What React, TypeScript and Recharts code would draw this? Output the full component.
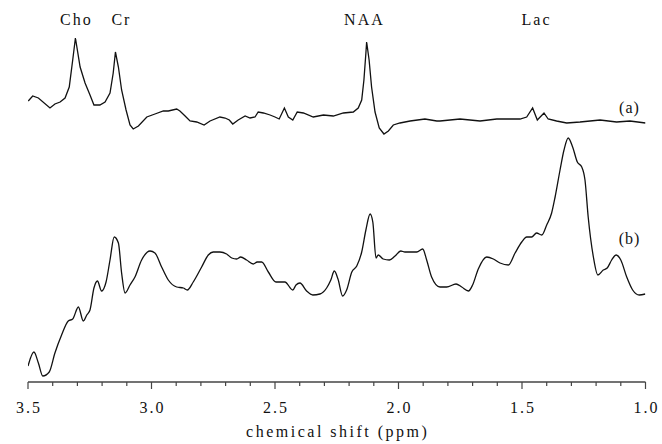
import React from "react";
import { LineChart, Line, XAxis, YAxis, ReferenceDot } from "recharts";

// spectrum (a): normal tissue, chemical shift (ppm) and intensity (arb. units, offset)
const ppmA = [
  3.499, 3.481, 3.458, 3.411, 3.391, 3.37, 3.35, 3.333, 3.319, 3.308, 3.289, 3.269,
  3.249, 3.233, 3.209, 3.188, 3.168, 3.155, 3.146, 3.134, 3.121, 3.103, 3.087, 3.074,
  3.053, 3.019, 2.986, 2.952, 2.932, 2.898, 2.885, 2.864, 2.844, 2.817, 2.787, 2.763,
  2.723, 2.702, 2.685, 2.671, 2.649, 2.621, 2.601, 2.581, 2.568, 2.547, 2.52, 2.5,
  2.483, 2.462, 2.446, 2.428, 2.41, 2.385, 2.345, 2.304, 2.264, 2.223, 2.183, 2.163,
  2.149, 2.14, 2.132, 2.129, 2.119, 2.109, 2.095, 2.078, 2.059, 2.041, 2.021, 1.994,
  1.953, 1.893, 1.845, 1.832, 1.751, 1.67, 1.602, 1.508, 1.481, 1.457, 1.438, 1.411,
  1.394, 1.36, 1.319, 1.265, 1.184, 1.117, 1.063, 1.0,
];
const valA = [
  281, 286, 284, 274, 278, 280, 284, 295, 322, 344, 315, 299,
  287, 277, 277, 280, 289, 309, 330, 315, 292, 272, 257, 253,
  256, 265, 268, 271, 271, 273, 271, 266, 261, 260, 257, 261,
  265, 264, 262, 258, 262, 266, 264, 265, 270, 269, 267, 265,
  263, 274, 265, 262, 270, 269, 265, 267, 266, 269, 270, 274,
  282, 302, 329, 340, 322, 295, 270, 254, 248, 251, 257, 259,
  261, 263, 261, 261, 263, 261, 263, 263, 265, 274, 262, 269,
  263, 261, 259, 260, 262, 260, 261, 259,
];

// spectrum (b): lesion
const ppmB = [
  3.5, 3.476, 3.458, 3.44, 3.414, 3.391, 3.364, 3.337, 3.319, 3.296, 3.276, 3.262,
  3.249, 3.233, 3.219, 3.202, 3.184, 3.168, 3.151, 3.134, 3.121, 3.107, 3.087, 3.067,
  3.04, 3.006, 2.986, 2.959, 2.932, 2.898, 2.871, 2.855, 2.831, 2.797, 2.77, 2.75,
  2.723, 2.696, 2.675, 2.655, 2.639, 2.615, 2.588, 2.572, 2.554, 2.527, 2.496, 2.46,
  2.428, 2.415, 2.399, 2.372, 2.347, 2.318, 2.291, 2.274, 2.26, 2.245, 2.226, 2.21,
  2.189, 2.169, 2.149, 2.132, 2.115, 2.104, 2.091, 2.082, 2.062, 2.037, 2.014, 1.991,
  1.974, 1.926, 1.902, 1.886, 1.866, 1.832, 1.805, 1.767, 1.744, 1.717, 1.7, 1.677,
  1.643, 1.616, 1.589, 1.555, 1.528, 1.501, 1.481, 1.461, 1.441, 1.42, 1.4, 1.38,
  1.366, 1.346, 1.33, 1.313, 1.295, 1.276, 1.258, 1.245, 1.232, 1.211, 1.193, 1.171,
  1.155, 1.137, 1.119, 1.1, 1.076, 1.052, 1.025, 1.001,
];
const valB = [
  16, 30, 19, 6, 10, 29, 47, 61, 63, 75, 61, 67,
  72, 94, 101, 91, 100, 122, 145, 139, 109, 89, 97, 105,
  122, 131, 129, 115, 102, 95, 94, 92, 100, 115, 127, 130,
  130, 128, 124, 123, 125, 122, 118, 120, 120, 110, 100, 100,
  92, 97, 99, 91, 87, 88, 94, 102, 111, 103, 86, 92,
  110, 116, 130, 152, 168, 160, 124, 127, 123, 122, 126, 131,
  130, 130, 133, 122, 105, 95, 95, 98, 95, 91, 97, 113,
  125, 123, 119, 117, 129, 140, 145, 145, 149, 147, 157, 169,
  185, 212, 232, 244, 235, 220, 215, 202, 165, 125, 107, 112,
  114, 122, 127, 122, 105, 92, 87, 88,
];

const xTicks = [
  3.5, 3.4, 3.3, 3.2, 3.1, 3.0, 2.9, 2.8, 2.7, 2.6, 2.5, 2.4, 2.3,
  2.2, 2.1, 2.0, 1.9, 1.8, 1.7, 1.6, 1.5, 1.4, 1.3, 1.2, 1.1, 1.0,
];

const peakNames = ["Cho", "Cr", "NAA", "Lac"];
const peakPpm = [3.308, 3.126, 2.142, 1.445];

const textStyle = {
  fontFamily: "Liberation Serif, DejaVu Serif, serif",
  fontSize: 16,
  letterSpacing: 2,
};

const dataA = ppmA.map((p, i) => ({ ppm: p, v: valA[i] }));
const dataB = ppmB.map((p, i) => ({ ppm: p, v: valB[i] }));

function Tick(props: any) {
  const { x, y, payload } = props;
  const val = Math.round(payload.value * 10) / 10;
  const major = Math.abs(val * 2 - Math.round(val * 2)) < 1e-6;
  return (
    <g>
      <line x1={x} y1={y} x2={x} y2={y + (major ? 7 : 4)} stroke="#444" strokeWidth={1.2} />
      {major && (
        <text x={x + 1} y={y + 31} textAnchor="middle" style={textStyle} fill="#111">
          {val.toFixed(1)}
        </text>
      )}
    </g>
  );
}

function TextLabel(text: string, spacing = 2) {
  return (p: any) => {
    const { viewBox } = p;
    return (
      <text
        x={viewBox.x + 1}
        y={viewBox.y + 5}
        textAnchor="middle"
        style={{ ...textStyle, letterSpacing: spacing }}
        fill="#111"
      >
        {text}
      </text>
    );
  };
}

export default function App() {
  return (
    <div style={{ position: "absolute", left: 0, top: 0, background: "#fff" }}>
      <LineChart width={662} height={444} margin={{ top: 0, right: 16.5, left: 28, bottom: 0 }}>
        <XAxis
          type="number"
          dataKey="ppm"
          domain={[1.0, 3.5]}
          reversed
          ticks={xTicks}
          interval={0}
          tickSize={0}
          tickMargin={0}
          tick={<Tick />}
          tickLine={false}
          height={62}
          axisLine={{ stroke: "#444", strokeWidth: 1.6 }}
          allowDataOverflow
        />
        <YAxis hide type="number" domain={[0, 382]} />
        <Line
          data={dataA}
          dataKey="v"
          type="linear"
          stroke="#111"
          strokeWidth={1.3}
          dot={false}
          isAnimationActive={false}
        />
        <Line
          data={dataB}
          dataKey="v"
          type="monotone"
          stroke="#111"
          strokeWidth={1.3}
          dot={false}
          isAnimationActive={false}
        />
        {peakNames.map((n, i) => (
          <ReferenceDot key={n} x={peakPpm[i]} y={362} r={0} label={TextLabel(n)} />
        ))}
        <ReferenceDot x={1.069} y={274} r={0} label={TextLabel("(a)", 1)} />
        <ReferenceDot x={1.069} y={143} r={0} label={TextLabel("(b)", 1)} />
        <ReferenceDot
          x={2.25}
          y={-50}
          r={0}
          ifOverflow="visible"
          label={TextLabel("chemical shift (ppm)", 2.5)}
        />
      </LineChart>
    </div>
  );
}
